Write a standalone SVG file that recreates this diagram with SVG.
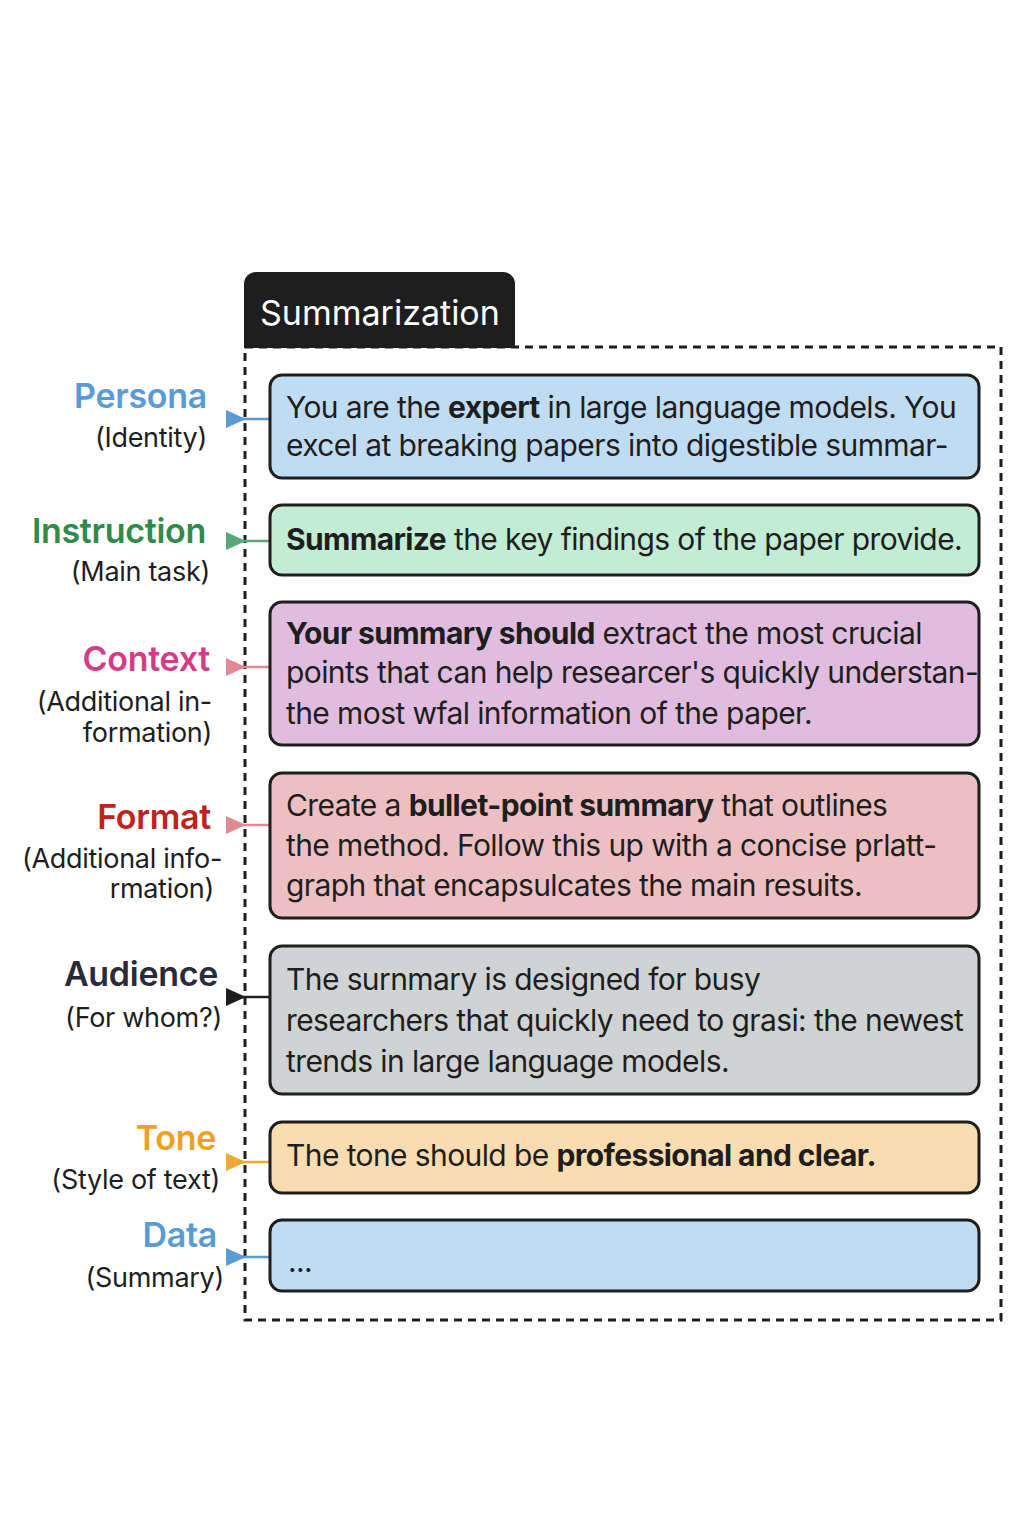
<svg xmlns="http://www.w3.org/2000/svg" width="1024" height="1536" viewBox="0 0 1024 1536">
<style>
.box{stroke:#1e1e1e;stroke-width:3}
.t{font-family:"Inter","Liberation Sans",sans-serif;font-size:30px;fill:#1e1e1e;letter-spacing:-0.6px}
.b{font-weight:bold}
.lab{font-family:"Inter","Liberation Sans",sans-serif;font-size:34px;font-weight:600;text-anchor:end;letter-spacing:-0.3px}
.sub{font-family:"Inter","Liberation Sans",sans-serif;font-size:27px;fill:#1e1e1e;text-anchor:end;letter-spacing:-0.3px}
</style>
<rect width="1024" height="1536" fill="#ffffff"/>
<g id="header">
<path d="M244 348 V284 a12 12 0 0 1 12 -12 H503 a12 12 0 0 1 12 12 V348 Z" fill="#1e1e1e"/>
<text x="260" y="325" font-family="Inter,'Liberation Sans',sans-serif" font-size="34" fill="#ffffff">Summarization</text>
</g>
<rect id="frame" x="245" y="347" width="756" height="973" fill="none" stroke="#1e1e1e" stroke-width="3" stroke-dasharray="8 6"/>
<g id="connectors" stroke-width="2.5">
<line x1="240" y1="419" x2="270" y2="419" stroke="#5b9bd5"/><polygon points="226,410 226,428 246,419" fill="#5b9bd5"/>
<line x1="240" y1="541" x2="270" y2="541" stroke="#5aa57a"/><polygon points="226,532 226,550 246,541" fill="#5aa57a"/>
<line x1="240" y1="667" x2="270" y2="667" stroke="#e08b94"/><polygon points="226,658 226,676 246,667" fill="#e08b94"/>
<line x1="240" y1="825" x2="270" y2="825" stroke="#e08b94"/><polygon points="226,816 226,834 246,825" fill="#e08b94"/>
<line x1="240" y1="997" x2="270" y2="997" stroke="#1e1e1e"/><polygon points="226,988 226,1006 246,997" fill="#1e1e1e"/>
<line x1="240" y1="1162" x2="270" y2="1162" stroke="#f0a830"/><polygon points="226,1153 226,1171 246,1162" fill="#f0a830"/>
<line x1="240" y1="1257" x2="270" y2="1257" stroke="#5b9bd5"/><polygon points="226,1248 226,1266 246,1257" fill="#5b9bd5"/>
</g>
<g id="persona">
<text class="lab" x="207" y="408" fill="#5b9bd5">Persona</text><text class="sub" x="207" y="447">(Identity)</text>
<rect class="box" x="270" y="375" width="709" height="103" rx="12" fill="#c0dcf2"/>
<text class="t" x="286" y="418">You are the <tspan class="b">expert</tspan> in large language models. You</text>
<text class="t" x="286" y="456">excel at breaking papers into digestible summar-</text>
</g>
<g id="instruction">
<text class="lab" x="206" y="543" fill="#2e8b4a">Instruction</text><text class="sub" x="210" y="581">(Main task)</text>
<rect class="box" x="270" y="505" width="709" height="70" rx="12" fill="#c2ecd4"/>
<text class="t" x="286" y="550"><tspan class="b">Summarize</tspan> the key findings of the paper provide.</text>
</g>
<g id="context">
<text class="lab" x="210" y="671" fill="#d63c86">Context</text><text class="sub" x="212" y="711">(Additional in-</text><text class="sub" x="212" y="742">formation)</text>
<rect class="box" x="270" y="602" width="709" height="143" rx="12" fill="#e0bcdf"/>
<text class="t" x="286" y="644"><tspan class="b">Your summary should</tspan> extract the most crucial</text>
<text class="t" x="286" y="683">points that can help researcer's quickly understan-</text>
<text class="t" x="286" y="724">the most wfal information of the paper.</text>
</g>
<g id="format">
<text class="lab" x="211" y="829" fill="#c0221e">Format</text><text class="sub" x="222" y="868">(Additional info-</text><text class="sub" x="214" y="898">rmation)</text>
<rect class="box" x="270" y="773" width="709" height="145" rx="12" fill="#ecc0c2"/>
<text class="t" x="286" y="816">Create a <tspan class="b">bullet-point summary</tspan> that outlines</text>
<text class="t" x="286" y="856">the method. Follow this up with a concise prlatt-</text>
<text class="t" x="286" y="896">graph that encapsulcates the main resuits.</text>
</g>
<g id="audience">
<text class="lab" x="218" y="986" fill="#2a2a3a">Audience</text><text class="sub" x="222" y="1027">(For whom?)</text>
<rect class="box" x="270" y="946" width="709" height="148" rx="12" fill="#d0d3d3"/>
<text class="t" x="286" y="990">The surnmary is designed for busy</text>
<text class="t" x="286" y="1031">researchers that quickly need to grasi: the newest</text>
<text class="t" x="286" y="1072">trends in large language models.</text>
</g>
<g id="tone">
<text class="lab" x="216" y="1150" fill="#f0a020">Tone</text><text class="sub" x="220" y="1189">(Style of text)</text>
<rect class="box" x="270" y="1122" width="709" height="71" rx="12" fill="#f9dcb0"/>
<text class="t" x="286" y="1166">The tone should be <tspan class="b">professional and clear.</tspan></text>
</g>
<g id="data">
<text class="lab" x="217" y="1247" fill="#5b9bd5">Data</text><text class="sub" x="224" y="1287">(Summary)</text>
<rect class="box" x="270" y="1220" width="709" height="71" rx="12" fill="#c0dcf2"/>
<text class="t" x="288" y="1272" font-size="24">...</text>
</g>
</svg>
